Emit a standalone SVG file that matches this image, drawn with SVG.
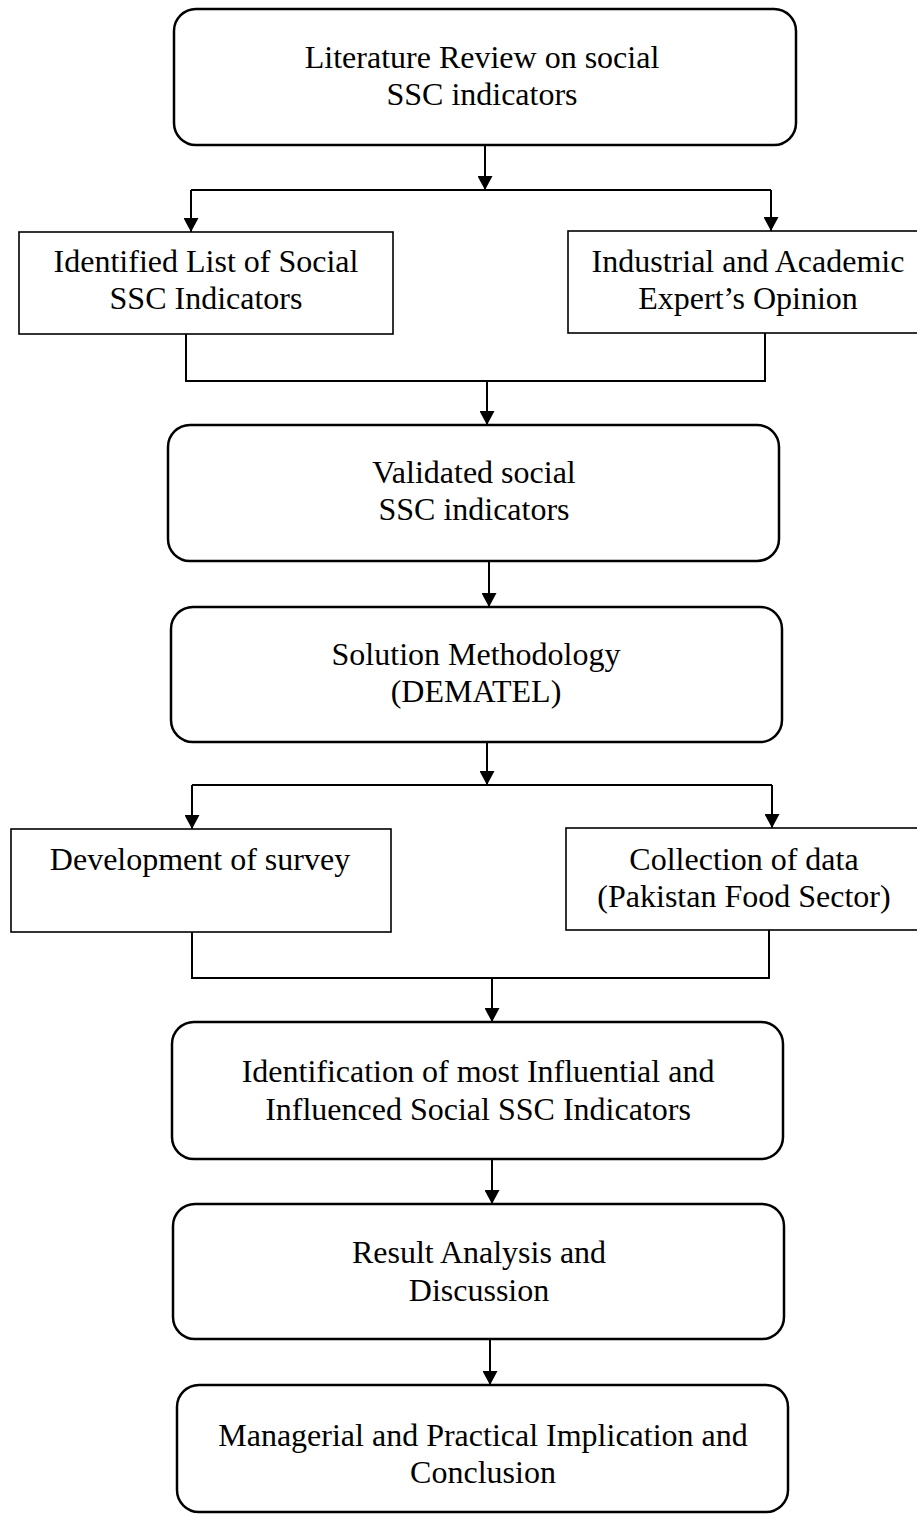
<svg xmlns="http://www.w3.org/2000/svg" width="917" height="1515" viewBox="0 0 917 1515">
<defs>
<style>
.rb{fill:#fff;stroke:#000;stroke-width:2.5}
.sb{fill:#fff;stroke:#000;stroke-width:1.6}
.c{fill:none;stroke:#000;stroke-width:2}
.t{font-family:"Liberation Serif","Times New Roman",serif;font-size:32px;fill:#000;text-anchor:middle}
</style>
<marker id="ah" viewBox="0 0 14 15" refX="14" refY="7.5" markerWidth="14" markerHeight="15" markerUnits="userSpaceOnUse" orient="auto">
<path d="M0,0 L14,7.5 L0,15 z" fill="#000"/>
</marker>
</defs>
<rect width="917" height="1515" fill="#fff"/>
<g id="connectors">
<line class="c" x1="485" y1="145" x2="485" y2="190" marker-end="url(#ah)"/>
<line class="c" x1="191" y1="190" x2="771" y2="190"/>
<line class="c" x1="191" y1="190" x2="191" y2="232" marker-end="url(#ah)"/>
<line class="c" x1="771" y1="190" x2="771" y2="231" marker-end="url(#ah)"/>
<polyline class="c" points="186,334 186,381 765,381 765,333"/>
<line class="c" x1="487" y1="381" x2="487" y2="425" marker-end="url(#ah)"/>
<line class="c" x1="489" y1="561" x2="489" y2="607" marker-end="url(#ah)"/>
<line class="c" x1="487" y1="742" x2="487" y2="785" marker-end="url(#ah)"/>
<line class="c" x1="192" y1="785" x2="772" y2="785"/>
<line class="c" x1="192" y1="785" x2="192" y2="829" marker-end="url(#ah)"/>
<line class="c" x1="772" y1="785" x2="772" y2="828" marker-end="url(#ah)"/>
<polyline class="c" points="192,932 192,978 769,978 769,930"/>
<line class="c" x1="492" y1="978" x2="492" y2="1022" marker-end="url(#ah)"/>
<line class="c" x1="492" y1="1159" x2="492" y2="1204" marker-end="url(#ah)"/>
<line class="c" x1="490" y1="1339" x2="490" y2="1385" marker-end="url(#ah)"/>
</g>
<g id="n1">
<rect class="rb" x="174" y="9" width="622" height="136" rx="22"/>
<text class="t" x="482" y="68">Literature Review on social</text>
<text class="t" x="482" y="105">SSC indicators</text>
</g>
<g id="n2">
<rect class="sb" x="19" y="232" width="374" height="102"/>
<text class="t" x="206" y="272">Identified List of Social</text>
<text class="t" x="206" y="309">SSC Indicators</text>
</g>
<g id="n3">
<rect class="sb" x="568" y="231" width="360" height="102"/>
<text class="t" x="748" y="272">Industrial and Academic</text>
<text class="t" x="748" y="309">Expert’s Opinion</text>
</g>
<g id="n4">
<rect class="rb" x="168" y="425" width="611" height="136" rx="22"/>
<text class="t" x="474" y="483">Validated social</text>
<text class="t" x="474" y="520">SSC indicators</text>
</g>
<g id="n5">
<rect class="rb" x="171" y="607" width="611" height="135" rx="22"/>
<text class="t" x="476" y="665">Solution Methodology</text>
<text class="t" x="476" y="702">(DEMATEL)</text>
</g>
<g id="n6">
<rect class="sb" x="11" y="829" width="380" height="103"/>
<text class="t" x="200" y="870">Development of survey</text>
</g>
<g id="n7">
<rect class="sb" x="566" y="828" width="360" height="102"/>
<text class="t" x="744" y="870">Collection of data</text>
<text class="t" x="744" y="907">(Pakistan Food Sector)</text>
</g>
<g id="n8">
<rect class="rb" x="172" y="1022" width="611" height="137" rx="22"/>
<text class="t" x="478" y="1082">Identification of most Influential and</text>
<text class="t" x="478" y="1120">Influenced Social SSC Indicators</text>
</g>
<g id="n9">
<rect class="rb" x="173" y="1204" width="611" height="135" rx="22"/>
<text class="t" x="479" y="1263">Result Analysis and</text>
<text class="t" x="479" y="1301">Discussion</text>
</g>
<g id="n10">
<rect class="rb" x="177" y="1385" width="611" height="127" rx="22"/>
<text class="t" x="483" y="1446">Managerial and Practical Implication and</text>
<text class="t" x="483" y="1483">Conclusion</text>
</g>
</svg>
